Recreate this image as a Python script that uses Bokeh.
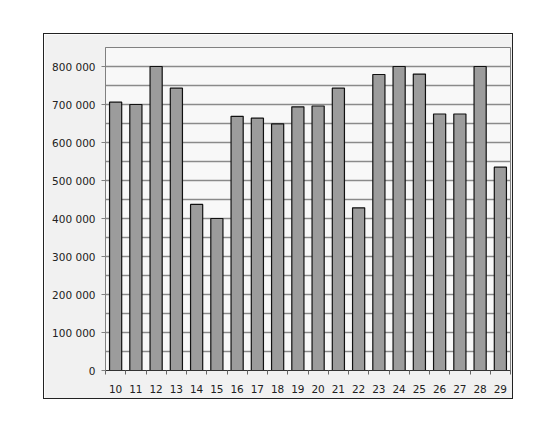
from bokeh.plotting import figure
from bokeh.models import FixedTicker, CustomJSTickFormatter, Range1d, ColumnDataSource
from bokeh.embed import file_html
from bokeh.resources import INLINE

days = [10, 11, 12, 13, 14, 15, 16, 17, 18, 19, 20, 21, 22, 23, 24, 25, 26, 27, 28, 29]
values = [706000, 700000, 800000, 743000, 437000, 400000, 669000, 664000, 649000, 694000,
          696000, 743000, 428000, 779000, 800000, 780000, 675000, 675000, 800000, 535000]
y_ticks = [0, 100000, 200000, 300000, 400000, 500000, 600000, 700000, 800000]
y_minor = [50000, 150000, 250000, 350000, 450000, 550000, 650000, 750000, 850000]

src = ColumnDataSource(dict(x=days, top=values))

p = figure(width=468, height=364, output_backend="svg", toolbar_location=None,
           x_range=Range1d(days[0] - 0.5, days[-1] + 0.5), y_range=Range1d(0, 850000),
           min_border_left=61, min_border_top=13, min_border_right=2, min_border_bottom=28,
           margin=(34, 0, 0, 44),
           styles={"outline": "1px solid #222"})

p.background_fill_color = "#f8f8f8"
p.border_fill_color = "#f1f1f1"
p.outline_line_color = "#808080"
p.outline_line_width = 1

p.vbar(x="x", top="top", width=0.6, source=src, fill_color="#9c9c9c",
       line_color="#111111", line_width=1.2)

# y axis
p.yaxis.ticker = FixedTicker(ticks=y_ticks, minor_ticks=y_minor)
p.yaxis.formatter = CustomJSTickFormatter(code="""
    if (tick == 0) { return "0"; }
    return (tick/1000).toFixed(0) + " 000";
""")
p.yaxis.axis_line_color = "#808080"
p.yaxis.major_tick_line_color = "#808080"
p.yaxis.major_tick_out = 4
p.yaxis.major_tick_in = 0
p.yaxis.minor_tick_line_color = None
p.yaxis.major_label_standoff = 6
p.yaxis.major_label_text_font = "DejaVu Sans"
p.yaxis.major_label_text_font_size = "10.5px"
p.yaxis.major_label_text_color = "#222222"

p.ygrid.ticker = FixedTicker(ticks=y_ticks + y_minor)
p.ygrid.grid_line_color = "#8a8a8a"
p.ygrid.grid_line_width = 1.3
p.xgrid.grid_line_color = None

# x axis with ticks between categories
bounds = [d - 0.5 for d in days] + [days[-1] + 0.5]
p.xaxis.ticker = FixedTicker(ticks=days, minor_ticks=bounds)
p.xaxis.axis_line_color = "#333333"
p.xaxis.major_tick_line_color = None
p.xaxis.major_tick_out = 0
p.xaxis.major_tick_in = 0
p.xaxis.minor_tick_line_color = "#666666"
p.xaxis.minor_tick_out = 4
p.xaxis.minor_tick_in = 0
p.xaxis.major_label_standoff = 10
p.xaxis.major_label_text_font = "DejaVu Sans"
p.xaxis.major_label_text_font_size = "10.5px"
p.xaxis.major_label_text_color = "#222222"

open("out.html", "w").write(file_html(p, INLINE))
